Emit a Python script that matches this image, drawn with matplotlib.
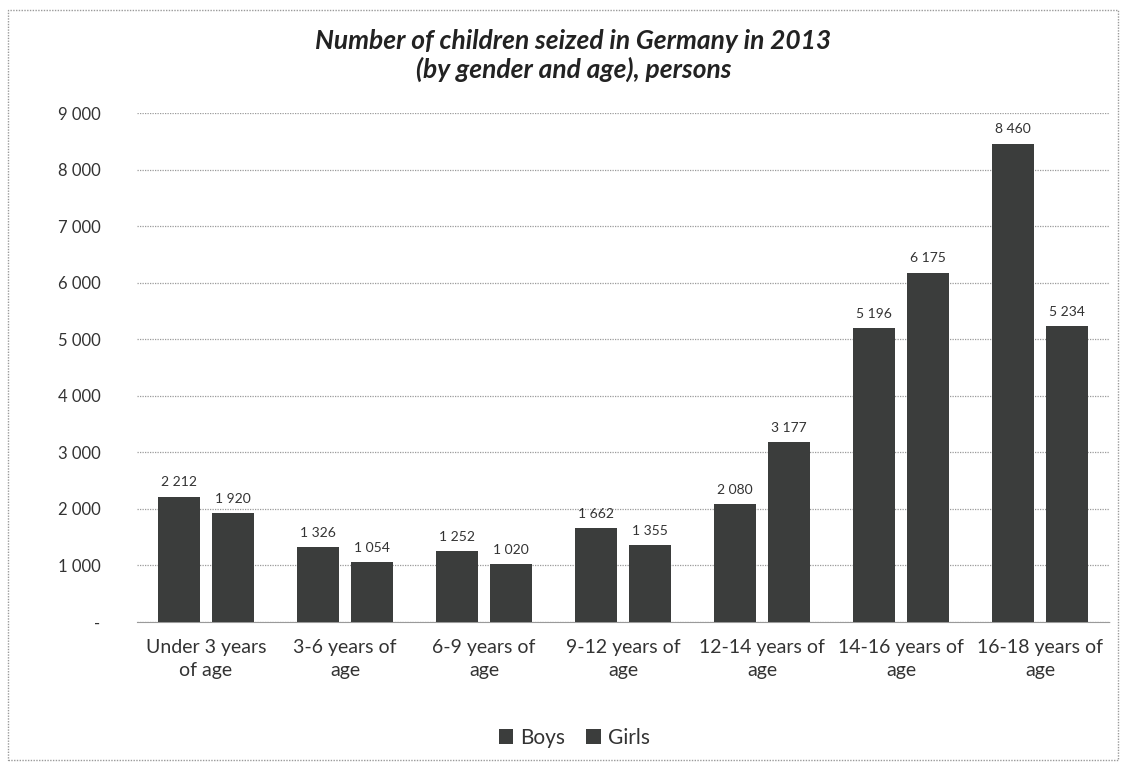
import matplotlib.pyplot as plt
import numpy as np
from matplotlib.patches import Rectangle

plt.rcParams['font.family'] = ['Lato', 'DejaVu Sans']

# Data
age_groups = ['Under 3 years\nof age', '3-6 years of\nage', '6-9 years of\nage',
              '9-12 years of\nage', '12-14 years of\nage', '14-16 years of\nage',
              '16-18 years of\nage']
boys = [2212, 1326, 1252, 1662, 2080, 5196, 8460]
girls = [1920, 1054, 1020, 1355, 3177, 6175, 5234]
y_ticks = [0, 1000, 2000, 3000, 4000, 5000, 6000, 7000, 8000, 9000]
y_tick_labels = ['-', '1 000', '2 000', '3 000', '4 000', '5 000',
                 '6 000', '7 000', '8 000', '9 000']

bar_color = '#3b3d3c'
text_color = '#333333'


def fmt(v):
    return f'{v:,}'.replace(',', ' ')


fig = plt.figure(figsize=(11.22, 7.63), dpi=100)
ax = fig.add_axes([0.1217, 0.1848, 0.8672, 0.667])

x = np.arange(len(age_groups))
w = 0.30
off = 0.194
b1 = ax.bar(x - off, boys, w, color=bar_color, label='Boys', zorder=3)
b2 = ax.bar(x + off, girls, w, color=bar_color, label='Girls', zorder=3)

for bars, vals in ((b1, boys), (b2, girls)):
    for rect, v in zip(bars, vals):
        ax.text(rect.get_x() + rect.get_width() / 2, v + 150, fmt(v),
                ha='center', va='bottom', fontsize=10, color=text_color)

ax.set_xlim(-0.5, len(age_groups) - 0.5)
ax.set_ylim(0, 9000)
ax.set_yticks(y_ticks)
ax.set_yticklabels(y_tick_labels)
ax.set_xticks(x)
ax.set_xticklabels(age_groups, fontsize=14, color=text_color, linespacing=1.45)
ax.tick_params(axis='y', length=0, pad=26, labelsize=12, labelcolor=text_color)
ax.tick_params(axis='x', length=0, pad=12)

ax.grid(axis='y', linestyle=(0, (1, 1)), color='#9a9a9a', linewidth=0.9, zorder=0)
for s in ['top', 'right', 'left']:
    ax.spines[s].set_visible(False)
ax.spines['bottom'].set_linestyle((0, (1, 1)))
ax.spines['bottom'].set_color('#9a9a9a')

fig.text(0.511, 0.962, 'Number of children seized in Germany in 2013\n(by gender and age), persons',
         ha='center', va='top', fontsize=19, fontweight='bold', fontstyle='italic',
         color='#222222', linespacing=1.2)

fig.legend(handles=[b1, b2], labels=['Boys', 'Girls'], loc='center',
           bbox_to_anchor=(0.512, 0.033), ncol=2, frameon=False, fontsize=15,
           handlelength=0.7, handleheight=0.7, handletextpad=0.35, columnspacing=1.0,
           labelcolor=text_color)

# dotted chart-area border
fig.patches.append(Rectangle((0.007, 0.004), 0.989, 0.983, transform=fig.transFigure,
                             fill=False, edgecolor='#9a9a9a', linestyle=(0, (1, 1)),
                             linewidth=1.0))

fig.savefig('out.png', dpi=100)
